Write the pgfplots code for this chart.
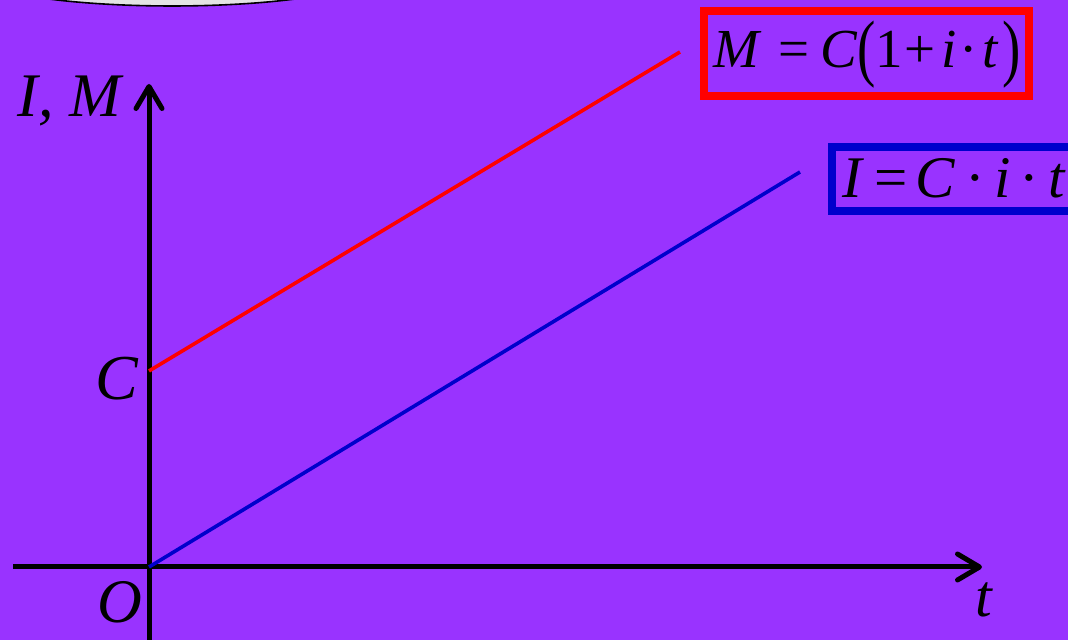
\documentclass[border=0pt]{standalone}
\usepackage{pgfplots}
\pgfplotsset{compat=1.18}
\usepackage{fontspec}
\setmainfont{Liberation Serif}
\usetikzlibrary{arrows.meta}
\definecolor{bg}{RGB}{153,51,255}
\definecolor{ellfill}{RGB}{228,228,228}
\definecolor{myblue}{RGB}{0,0,204}
\begin{document}
\begin{tikzpicture}
\begin{axis}[
  scale only axis,
  width=534pt, height=320pt,
  xmin=-149, xmax=919, ymin=-73, ymax=567,
  hide axis,
  clip=true,
]
\fill[bg] (rel axis cs:0,0) rectangle (rel axis cs:1,1);
\coordinate (ll) at (rel axis cs:0,0);
\coordinate (ur) at (rel axis cs:1,1);
% ellipse
\draw[fill=ellfill, draw=black, line width=0.8pt] (axis cs:23,597) ellipse [x radius=104pt, y radius=18pt];
% axes
\addplot[black, line width=2.5pt, -{Straight Barb[length=11pt,width=13pt,round]}] coordinates {(-136,0) (833,0)};
\addplot[black, line width=2.5pt, -{Straight Barb[length=11pt,width=13pt,round]}] coordinates {(0,-80) (0,483)};
% lines
\addplot[red, line width=1.8pt] coordinates {(0,196) (531,515)};
\addplot[myblue, line width=1.8pt] coordinates {(0,0) (651,395)};
% labels
\node[anchor=base west, inner sep=0pt, font=\fontsize{31pt}{31pt}\selectfont\itshape] at (axis cs:-132,450) {I, M};
\node[anchor=base west, inner sep=0pt, font=\fontsize{32pt}{32pt}\selectfont\itshape] at (axis cs:-54,167) {C};
\node[anchor=base west, inner sep=0pt, font=\fontsize{31pt}{31pt}\selectfont\itshape] at (axis cs:-52,-56) {O};
\node[anchor=base west, inner sep=0pt, font=\fontsize{30pt}{30pt}\selectfont\itshape] at (axis cs:826,-50) {t};
% boxes
\draw[red, line width=4pt] (axis cs:555,556) rectangle (axis cs:880,471);
\draw[myblue, line width=4pt] (axis cs:683,420) rectangle (axis cs:945,356);
\node[anchor=base west, inner sep=0pt, font=\fontsize{27.5pt}{27.5pt}\selectfont] at (axis cs:564,499)
  {\textit{M}\hspace{0.3em}=\hspace{0.2em}\textit{C}\raisebox{-0.08em}{\scalebox{1}[1.35]{(}}1\hspace{0.03em}+\hspace{0.1em}\textit{i}\hspace{0.05em}·\hspace{0.08em}\textit{t}\hspace{0.08em}\raisebox{-0.08em}{\scalebox{1}[1.35]{)}}};
\node[anchor=base west, inner sep=0pt, font=\fontsize{29.5pt}{29.5pt}\selectfont] at (axis cs:693,369)
  {\textit{I}\hspace{0.18em}=\hspace{0.12em}\textit{C}\hspace{0.18em}·\hspace{0.15em}\textit{i}\hspace{0.15em}·\hspace{0.15em}\textit{t}};
\end{axis}
\pgfresetboundingbox
\path[use as bounding box] (ll) rectangle (ur);
\end{tikzpicture}
\end{document}
